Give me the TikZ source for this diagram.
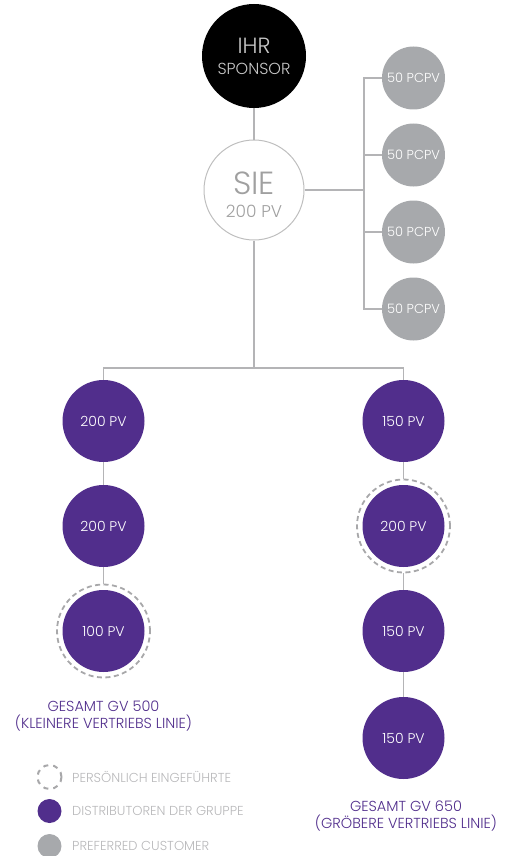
\documentclass[tikz,border=0pt]{standalone}
\usepackage{fontspec}
\setmainfont{Poppins Light}
\definecolor{purp}{RGB}{81,46,140}
\definecolor{pcgrey}{RGB}{167,169,172}
\definecolor{linegrey}{RGB}{180,180,182}
\definecolor{siegrey}{RGB}{190,190,190}
\definecolor{sietext}{RGB}{160,160,160}
\definecolor{spontext}{RGB}{200,200,200}
\definecolor{ringgrey}{RGB}{168,168,170}
\definecolor{legtext}{RGB}{184,184,186}
\tikzset{
  fs/.style={font=\fontsize{#1}{#1}\selectfont},
  dist/.style={circle, fill=purp, minimum size=82pt, inner sep=0pt, text=white, fs=14},
  pc/.style={circle, fill=pcgrey, minimum size=63pt, inner sep=0pt, text=white, fs=13},
  ring/.style={circle, draw=ringgrey, dash pattern=on 5pt off 3.5pt, line width=1.8pt, minimum size=93pt, inner sep=0pt},
  conn/.style={draw=linegrey, line width=1.6pt},
  plabel/.style={text=purp, fs=14.5, align=center, inner sep=0pt},
  legtxt/.style={text=legtext, fs=13, anchor=west, inner sep=0pt},
  txt/.style={inner sep=0pt}
}
\begin{document}
\begin{tikzpicture}[x=1pt,y=-1pt]
\useasboundingbox (0,0) rectangle (509,856);
% sponsor
\node[circle, fill=black, minimum size=104pt, inner sep=0pt] (sp) at (254,56) {};
\node[txt, text=spontext, fs=22] (spa) at (254,46) {IHR};
\node[txt, text=spontext, fs=16] (spb) at (254,69) {SPONSOR};
% you
\node[circle, draw=siegrey, line width=1pt, minimum size=100pt, inner sep=0pt] (sie) at (254,190) {};
\node[txt, text=sietext, fs=32] (siea) at (254,183.5) {SIE};
\node[txt, text=sietext, fs=17] (sieb) at (254,211.5) {200 PV};
% preferred customers
\node[pc] (p1) at (413.5,78) {50 PCPV};
\node[pc] (p2) at (413.5,155) {50 PCPV};
\node[pc] (p3) at (413.5,232) {50 PCPV};
\node[pc] (p4) at (413.5,309) {50 PCPV};
\coordinate (pj) at (364,190);
% left line
\node[dist] (l1) at (103.5,421) {200 PV};
\node[dist] (l2) at (103.5,526) {200 PV};
\node[dist] (l3) at (103.5,631) {100 PV};
\node[ring] (l3r) at (103.5,631) {};
% right line
\node[dist] (r1) at (403.5,421) {150 PV};
\node[dist] (r2) at (403.5,526) {200 PV};
\node[ring] (r2r) at (403.5,526) {};
\node[dist] (r3) at (403.5,631) {150 PV};
\node[dist] (r4) at (403.5,738) {150 PV};
\coordinate (bar) at (254,368);
% connectors
\draw[conn] (sp) -- (sie);
\draw[conn] (sie) -- (pj);
\draw[conn] (p1) -| (pj) |- (p4);
\draw[conn] (p2) -| (pj);
\draw[conn] (p3) -| (pj);
\draw[conn] (sie) -- (bar);
\draw[conn] (l1) |- (bar) -| (r1);
\draw[conn] (l1) -- (l2);
\draw[conn] (l2) -- (l3r);
\draw[conn] (r1) -- (r2r);
\draw[conn] (r2r) -- (r3);
\draw[conn] (r3) -- (r4);
% totals
\node[plabel] (lt) at (103.5,716) {GESAMT GV 500\\[2.5pt](KLEINERE VERTRIEBS LINIE)};
\node[plabel] (rt) at (406,816) {GESAMT GV 650\\[2.5pt](GRÖBERE VERTRIEBS LINIE)};
% legend
\node[circle, draw=ringgrey, dash pattern=on 5pt off 5pt, line width=2pt, minimum size=24pt, inner sep=0pt] (lg1) at (49.5,777) {};
\node[circle, fill=purp, minimum size=24pt, inner sep=0pt] (lg2) at (49.5,811) {};
\node[circle, fill=pcgrey, minimum size=24pt, inner sep=0pt] (lg3) at (49.5,846) {};
\node[legtxt] (lt1) at (72,777) {PERSÖNLICH EINGEFÜHRTE};
\node[legtxt] (lt2) at (72,811) {DISTRIBUTOREN DER GRUPPE};
\node[legtxt] (lt3) at (72,846) {PREFERRED CUSTOMER};
\end{tikzpicture}
\end{document}
